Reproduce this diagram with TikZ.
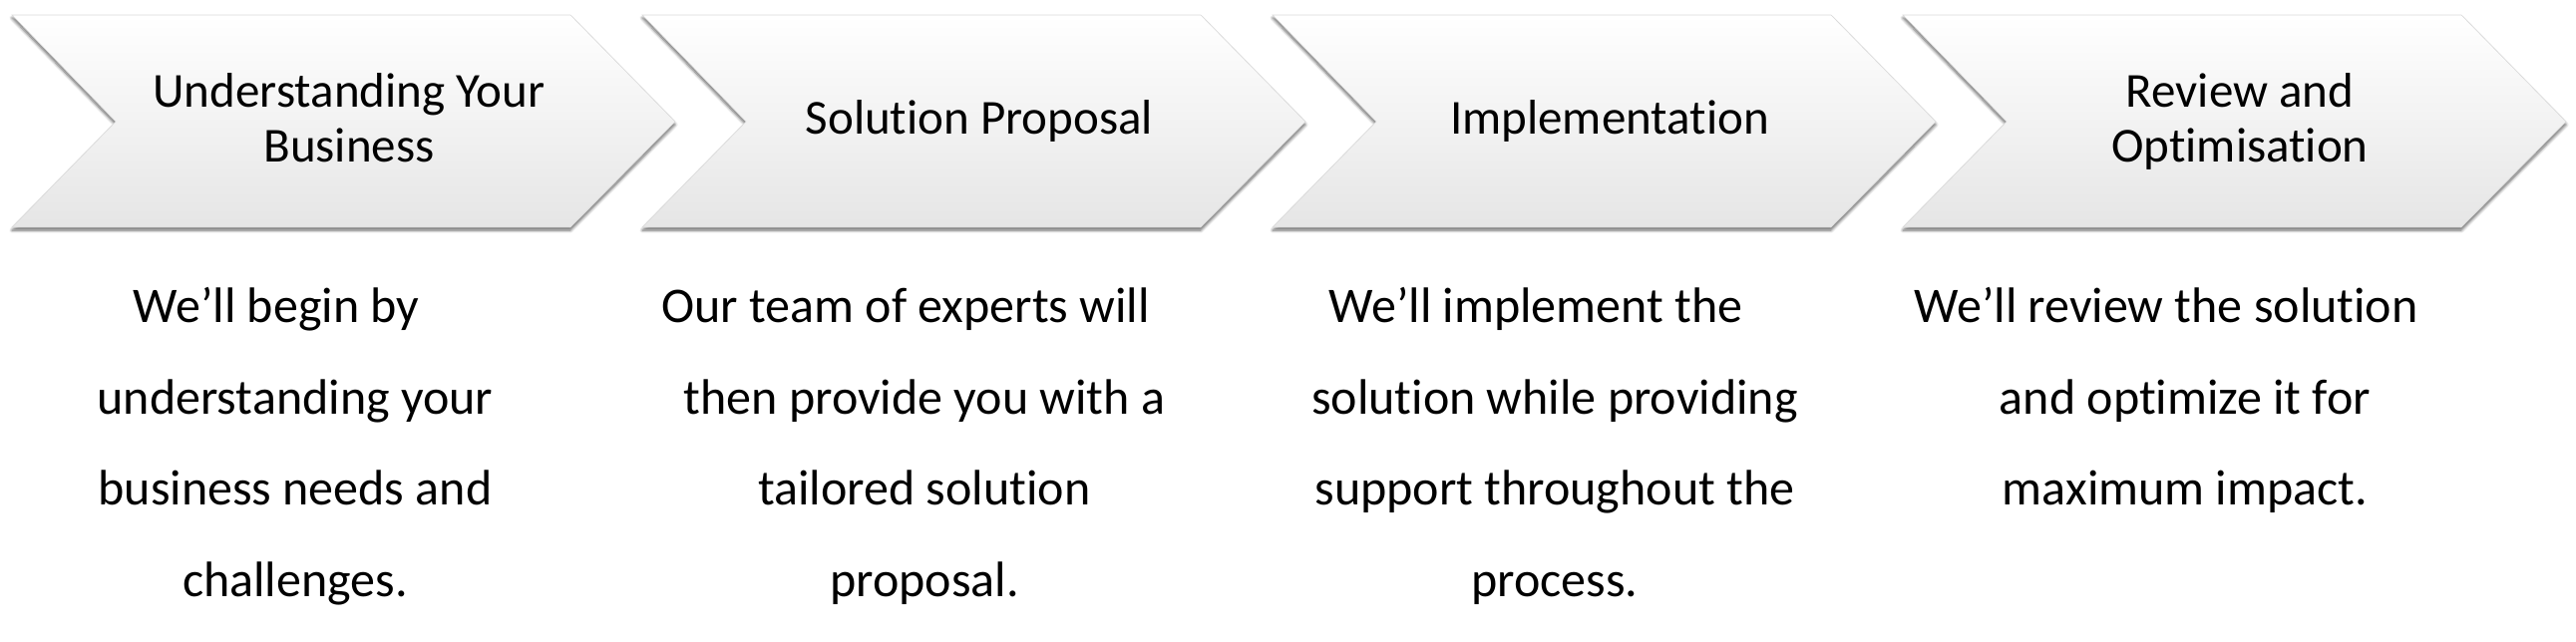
\documentclass[tikz,border=0pt]{standalone}
\usepackage{fontspec}
\setmainfont{Carlito}[Ligatures=NoCommon]
\usetikzlibrary{shadows.blur}
\begin{document}
\begin{tikzpicture}[x=1pt,y=1pt,
  chev/.style={top color=white, middle color=white, bottom color=gray!20, draw=gray!30, line width=0.6pt, line join=miter,
    blur shadow={shadow xshift=0pt, shadow yshift=-3pt, shadow blur radius=3pt, shadow blur steps=6, shadow opacity=60}},
  ttl/.style={font=\fontsize{49}{55}\selectfont, anchor=base, inner sep=0pt},
  bod/.style={font=\fontsize{50}{60}\selectfont, anchor=base, inner sep=0pt}]
\useasboundingbox (0,0) rectangle (2583,-643);
\foreach \i in {0,...,3} {
  \pgfmathsetmacro{\L}{12+632*\i}
  \path[chev] (\L,-15) -- ++(560,0) -- ++(105,-107) -- ++(-105,-106) -- ++(-560,0) -- ++(104,106) -- cycle;
}
% titles
\node[ttl] (t1a) at (350,-107) {Understanding Your};
\node[ttl] (t1b) at (350,-162) {Business};
\node[ttl] (t2) at (982,-134.5) {Solution Proposal};
\node[ttl] (t3) at (1614,-134.5) {Implementation};
\node[ttl] (t4a) at (2246,-107) {Review and};
\node[ttl] (t4b) at (2246,-162) {Optimisation};
% descriptions
\node[bod] (d1a) at (277,-323) {We’ll begin by};
\node[bod] (d1b) at (296,-415) {understanding your};
\node[bod] (d1c) at (296,-506) {business needs and};
\node[bod] (d1d) at (296,-598) {challenges.};
\node[bod] (d2a) at (908,-323) {Our team of experts will};
\node[bod] (d2b) at (927,-415) {then provide you with a};
\node[bod] (d2c) at (927,-506) {tailored solution};
\node[bod] (d2d) at (927,-598) {proposal.};
\node[bod] (d3a) at (1540,-323) {We’ll implement the};
\node[bod] (d3b) at (1559,-415) {solution while providing};
\node[bod] (d3c) at (1559,-506) {support throughout the};
\node[bod] (d3d) at (1559,-598) {process.};
\node[bod] (d4a) at (2172,-323) {We’ll review the solution};
\node[bod] (d4b) at (2191,-415) {and optimize it for};
\node[bod] (d4c) at (2191,-506) {maximum impact.};
\end{tikzpicture}
\end{document}
